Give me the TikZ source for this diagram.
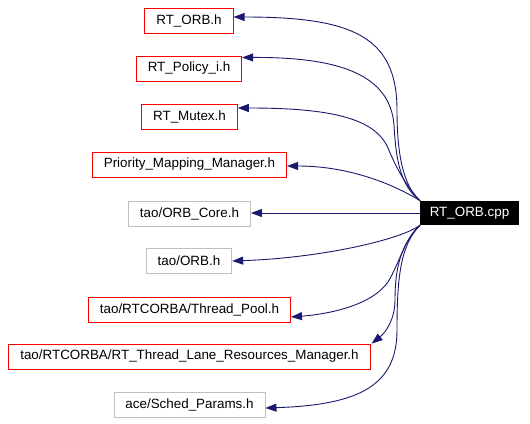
\documentclass[tikz,border=0pt]{standalone}
\usepackage{fontspec}
\setmainfont{Liberation Sans}
\usetikzlibrary{arrows.meta}
\definecolor{edgeblue}{HTML}{191970}
\definecolor{boxgray}{HTML}{BFBFBF}
\tikzset{
	file/.style={draw=red, line width=0.8pt, inner xsep=11.5pt, minimum height=25pt, font=\fontsize{13.4}{15}\selectfont},
	extfile/.style={file, draw=boxgray},
	main/.style={fill=black, text=white, inner xsep=9.5pt, minimum height=24pt, font=\fontsize{13.4}{15}\selectfont},
	dep/.style={draw=edgeblue, line width=0.9pt, -{Triangle[length=11pt, width=8pt]}}
}

\begin{document}
\begin{tikzpicture}[x=1pt, y=-1pt]
		\useasboundingbox (0, 0) rectangle (530, 423);
		\node[main] (cpp) at (469.5, 213) {RT\_ORB.cpp};
		\node[file] (orbh) at (189, 20.5) {RT\_ORB.h};
		\node[file] (policy) at (189, 68.5) {RT\_Policy\_i.h};
		\node[file] (mutex) at (189.5, 116.5) {RT\_Mutex.h};
		\node[file] (prio) at (189.5, 164.5) {Priority\_Mapping\_Manager.h};
		\node[extfile] (core) at (189.5, 213.5) {tao/ORB\_Core.h};
		\node[extfile] (taoorb) at (189, 260.5) {tao/ORB.h};
		\node[file] (pool) at (189.5, 309.5) {tao/RTCORBA/Thread\_Pool.h};
		\node[file] (lane) at (189.5, 356.5) {tao/RTCORBA/RT\_Thread\_Lane\_Resources\_Manager.h};
		\node[extfile] (sched) at (189.5, 404.5) {ace/Sched\_Params.h};
		\draw[dep] (cpp.north west) .. controls (402, 185) and (397, 150) .. (397, 110)
			.. controls (397, 35) and (350, 17) .. ([yshift=3.5pt]orbh.east);
		\draw[dep] (cpp.north west) .. controls (400, 185) and (396, 160) .. (394, 125)
			.. controls (390, 75) and (340, 57) .. ([yshift=11pt]policy.east);
		\draw[dep] (cpp.north west) .. controls (405, 185) and (395, 165) .. (388, 148)
			.. controls (375, 118) and (330, 108) .. ([yshift=8.5pt]mutex.east);
		\draw[dep] (cpp.north west) .. controls (395, 185) and (350, 166) .. ([yshift=-1.5pt]prio.east);
		\draw[dep] (cpp.west) -- (core.east |- cpp.west);
		\draw[dep] (cpp.south west) .. controls (400, 240) and (320, 258) .. ([yshift=-0.5pt]taoorb.east);
		\draw[dep] (cpp.south west) .. controls (405, 238) and (400, 262) .. (388, 282)
			.. controls (372, 305) and (330, 314) .. ([yshift=-7.5pt]pool.east);
		\draw[dep] (cpp.south west) .. controls (400, 245) and (395, 270) .. (395, 300)
			.. controls (395, 320) and (385, 333) .. ([xshift=1pt]lane.north east);
		\draw[dep] (cpp.south west) .. controls (400, 245) and (397, 280) .. (397, 330)
			.. controls (397, 385) and (360, 405) .. ([yshift=-3.5pt]sched.east);
	\end{tikzpicture}
\end{document}
